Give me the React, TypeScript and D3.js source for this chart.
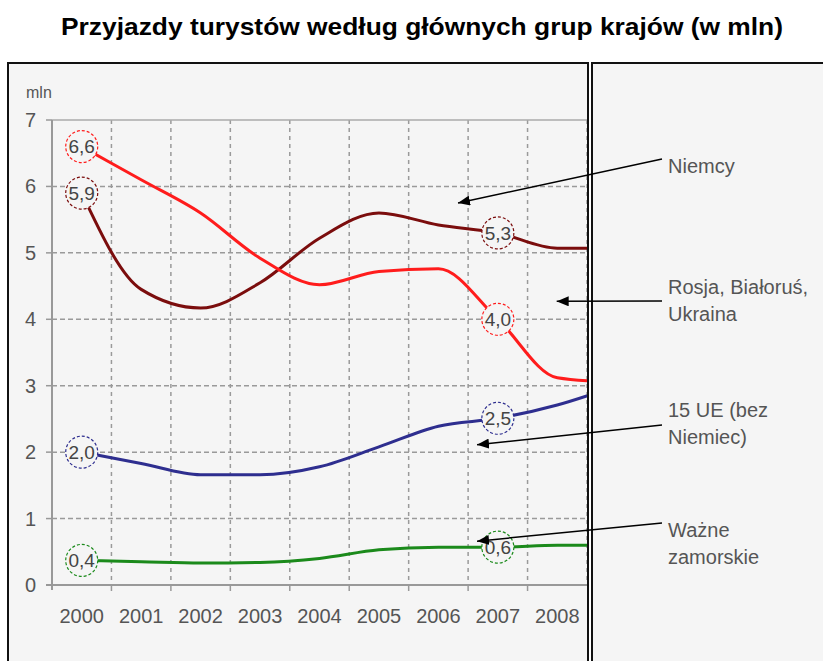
import { useEffect, useRef } from "react";
import * as d3 from "d3";

// years shown on the axis; 2009 only continues the lines past the clipped edge
const years = [2000, 2001, 2002, 2003, 2004, 2005, 2006, 2007, 2008];
const lineYears = [...years, 2009];

const niemcy = [5.9, 4.45, 4.17, 4.55, 5.22, 5.6, 5.42, 5.3, 5.07, 5.07];
const rosja = [6.6, 6.1, 5.6, 4.92, 4.52, 4.72, 4.76, 4.0, 3.12, 3.05];
const ue15 = [2.0, 1.83, 1.66, 1.66, 1.78, 2.08, 2.39, 2.51, 2.71, 3.0];
const zamorskie = [0.37, 0.35, 0.33, 0.34, 0.4, 0.53, 0.57, 0.57, 0.6, 0.6];

const yTicks = [0, 1, 2, 3, 4, 5, 6, 7];
const labelYears = [2000, 2007];

// annotation text on the right; arrow tip given in data units (year, value)
const notes = [
  { lines: ["Niemcy"], tip: [2006.33, 5.75], tailY: 159 },
  { lines: ["Rosja, Białoruś,", "Ukraina"], tip: [2007.99, 4.27], tailY: 301 },
  { lines: ["15 UE (bez", "Niemiec)"], tip: [2006.65, 2.11], tailY: 425 },
  { lines: ["Ważne", "zamorskie"], tip: [2006.65, 0.66], tailY: 523 },
];
const noteTop = [173, 294, 417, 537];

const title = "Przyjazdy turystów według głównych grup krajów (w mln)";

export default function App() {
  const svgRef = useRef<SVGSVGElement>(null);

  useEffect(() => {
    if (!svgRef.current) return;
    const svg = d3.select(svgRef.current);
    svg.selectAll("*").remove();

    const font = "'Liberation Sans', Arial, sans-serif";
    const bg = "#f5f5f5";
    const plot = { left: 52, right: 587, top: 120, bottom: 585 };

    const x = d3
      .scaleLinear()
      .domain([1999.5, 2008.5])
      .range([plot.left, plot.right]);
    const y = d3.scaleLinear().domain([0, 7]).range([plot.bottom, plot.top]);

    const series = [
      { name: "Niemcy", values: niemcy, color: "#7b0d0d" },
      { name: "Rosja", values: rosja, color: "#ff1c1c" },
      { name: "UE15", values: ue15, color: "#2e2e8f" },
      { name: "Zamorskie", values: zamorskie, color: "#1b8a1b" },
    ];

    svg.append("rect").attr("width", 823).attr("height", 661).attr("fill", "#fff");

    // title
    svg
      .append("text")
      .attr("x", 422)
      .attr("y", 35)
      .attr("text-anchor", "middle")
      .attr("font-family", font)
      .attr("font-weight", "bold")
      .attr("font-size", 23)
      .attr("textLength", 722)
      .attr("lengthAdjust", "spacingAndGlyphs")
      .attr("fill", "#000")
      .text(title);

    // panels
    svg
      .append("rect")
      .attr("x", 8)
      .attr("y", 63)
      .attr("width", 580)
      .attr("height", 700)
      .attr("fill", bg);
    svg
      .append("rect")
      .attr("x", 592)
      .attr("y", 63)
      .attr("width", 260)
      .attr("height", 700)
      .attr("fill", bg);

    const g = svg.append("g");

    // grid
    const bounds = d3.range(2000.5, 2009, 1);
    g.append("g")
      .selectAll("line")
      .data(bounds)
      .join("line")
      .attr("x1", (d) => x(d))
      .attr("x2", (d) => x(d))
      .attr("y1", plot.top)
      .attr("y2", plot.bottom)
      .attr("stroke", "#9a9a9a")
      .attr("stroke-width", 1.5)
      .attr("stroke-dasharray", "4,4");
    g.append("g")
      .selectAll("line")
      .data(yTicks.filter((d) => d > 0 && d < 7))
      .join("line")
      .attr("x1", plot.left)
      .attr("x2", plot.right)
      .attr("y1", (d) => y(d))
      .attr("y2", (d) => y(d))
      .attr("stroke", "#9a9a9a")
      .attr("stroke-width", 1.5)
      .attr("stroke-dasharray", "5,3");

    // top border of plot
    g.append("line")
      .attr("x1", plot.left)
      .attr("x2", plot.right)
      .attr("y1", plot.top)
      .attr("y2", plot.top)
      .attr("stroke", "#aaa")
      .attr("stroke-width", 1.5);

    // axes
    g.append("line")
      .attr("x1", plot.left)
      .attr("x2", plot.left)
      .attr("y1", plot.top)
      .attr("y2", plot.bottom + 5)
      .attr("stroke", "#999")
      .attr("stroke-width", 2);
    g.append("line")
      .attr("x1", plot.left - 6)
      .attr("x2", plot.right)
      .attr("y1", plot.bottom)
      .attr("y2", plot.bottom)
      .attr("stroke", "#999")
      .attr("stroke-width", 2);
    g.append("g")
      .selectAll("line")
      .data(yTicks)
      .join("line")
      .attr("x1", plot.left - 6)
      .attr("x2", plot.left)
      .attr("y1", (d) => y(d))
      .attr("y2", (d) => y(d))
      .attr("stroke", "#999")
      .attr("stroke-width", 1.5);
    g.append("g")
      .selectAll("line")
      .data(bounds.slice(0, -1))
      .join("line")
      .attr("x1", (d) => x(d))
      .attr("x2", (d) => x(d))
      .attr("y1", plot.bottom)
      .attr("y2", plot.bottom + 6)
      .attr("stroke", "#999")
      .attr("stroke-width", 1.5);

    g.append("g")
      .selectAll("text")
      .data(yTicks)
      .join("text")
      .attr("x", 36)
      .attr("y", (d) => y(d))
      .attr("dy", "0.35em")
      .attr("text-anchor", "end")
      .attr("font-family", font)
      .attr("font-size", 20)
      .attr("fill", "#555")
      .text((d) => d);
    g.append("g")
      .selectAll("text")
      .data(years)
      .join("text")
      .attr("x", (d) => x(d))
      .attr("y", 623)
      .attr("text-anchor", "middle")
      .attr("font-family", font)
      .attr("font-size", 20)
      .attr("fill", "#555")
      .text((d) => d);
    g.append("text")
      .attr("x", 26)
      .attr("y", 98)
      .attr("font-family", font)
      .attr("font-size", 16)
      .attr("fill", "#555")
      .text("mln");

    // lines
    svg
      .append("clipPath")
      .attr("id", "plotClip")
      .append("rect")
      .attr("x", plot.left)
      .attr("y", plot.top - 20)
      .attr("width", plot.right - plot.left)
      .attr("height", plot.bottom - plot.top + 20);

    const line = d3
      .line<number>()
      .x((_, i) => x(lineYears[i]))
      .y((d) => y(d))
      .curve(d3.curveMonotoneX);

    const lines = g.append("g").attr("clip-path", "url(#plotClip)");
    series.forEach((s) => {
      lines
        .append("path")
        .datum(s.values)
        .attr("fill", "none")
        .attr("stroke", s.color)
        .attr("stroke-width", 3)
        .attr("d", line);
    });

    // value labels
    const fmt = (v: number) => v.toFixed(1).replace(".", ",");
    series.forEach((s) => {
      labelYears.forEach((yr) => {
        const v = s.values[lineYears.indexOf(yr)];
        const lg = g.append("g").attr("transform", `translate(${x(yr)},${y(v)})`);
        lg.append("circle")
          .attr("r", 16)
          .attr("fill", bg)
          .attr("stroke", s.color)
          .attr("stroke-width", 1.2)
          .attr("stroke-dasharray", "3,2");
        lg.append("text")
          .attr("text-anchor", "middle")
          .attr("dy", "0.36em")
          .attr("font-family", font)
          .attr("font-size", 19)
          .attr("fill", "#444")
          .text(fmt(v));
      });
    });

    // frames
    svg
      .append("rect")
      .attr("x", 8)
      .attr("y", 63)
      .attr("width", 580)
      .attr("height", 700)
      .attr("fill", "none")
      .attr("stroke", "#111")
      .attr("stroke-width", 2);
    svg
      .append("rect")
      .attr("x", 592)
      .attr("y", 63)
      .attr("width", 260)
      .attr("height", 700)
      .attr("fill", "none")
      .attr("stroke", "#111")
      .attr("stroke-width", 2);

    // annotations
    svg
      .append("defs")
      .append("marker")
      .attr("id", "arrow")
      .attr("viewBox", "0 0 12 10")
      .attr("refX", 12)
      .attr("refY", 5)
      .attr("markerWidth", 12)
      .attr("markerHeight", 10)
      .attr("markerUnits", "userSpaceOnUse")
      .attr("orient", "auto")
      .append("path")
      .attr("d", "M0,0L12,5L0,10Z")
      .attr("fill", "#000");

    notes.forEach((n, i) => {
      svg
        .append("line")
        .attr("x1", 662)
        .attr("y1", n.tailY)
        .attr("x2", x(n.tip[0]))
        .attr("y2", y(n.tip[1]))
        .attr("stroke", "#000")
        .attr("stroke-width", 1.5)
        .attr("marker-end", "url(#arrow)");
      const t = svg
        .append("text")
        .attr("x", 668)
        .attr("y", noteTop[i])
        .attr("font-family", font)
        .attr("font-size", 20)
        .attr("fill", "#555");
      n.lines.forEach((l, j) => {
        t.append("tspan")
          .attr("x", 668)
          .attr("dy", j === 0 ? 0 : 27)
          .text(l);
      });
    });
  }, []);

  return (
    <div style={{ position: "absolute", left: 0, top: 0 }}>
      <svg ref={svgRef} width={823} height={661} style={{ display: "block" }} />
    </div>
  );
}
